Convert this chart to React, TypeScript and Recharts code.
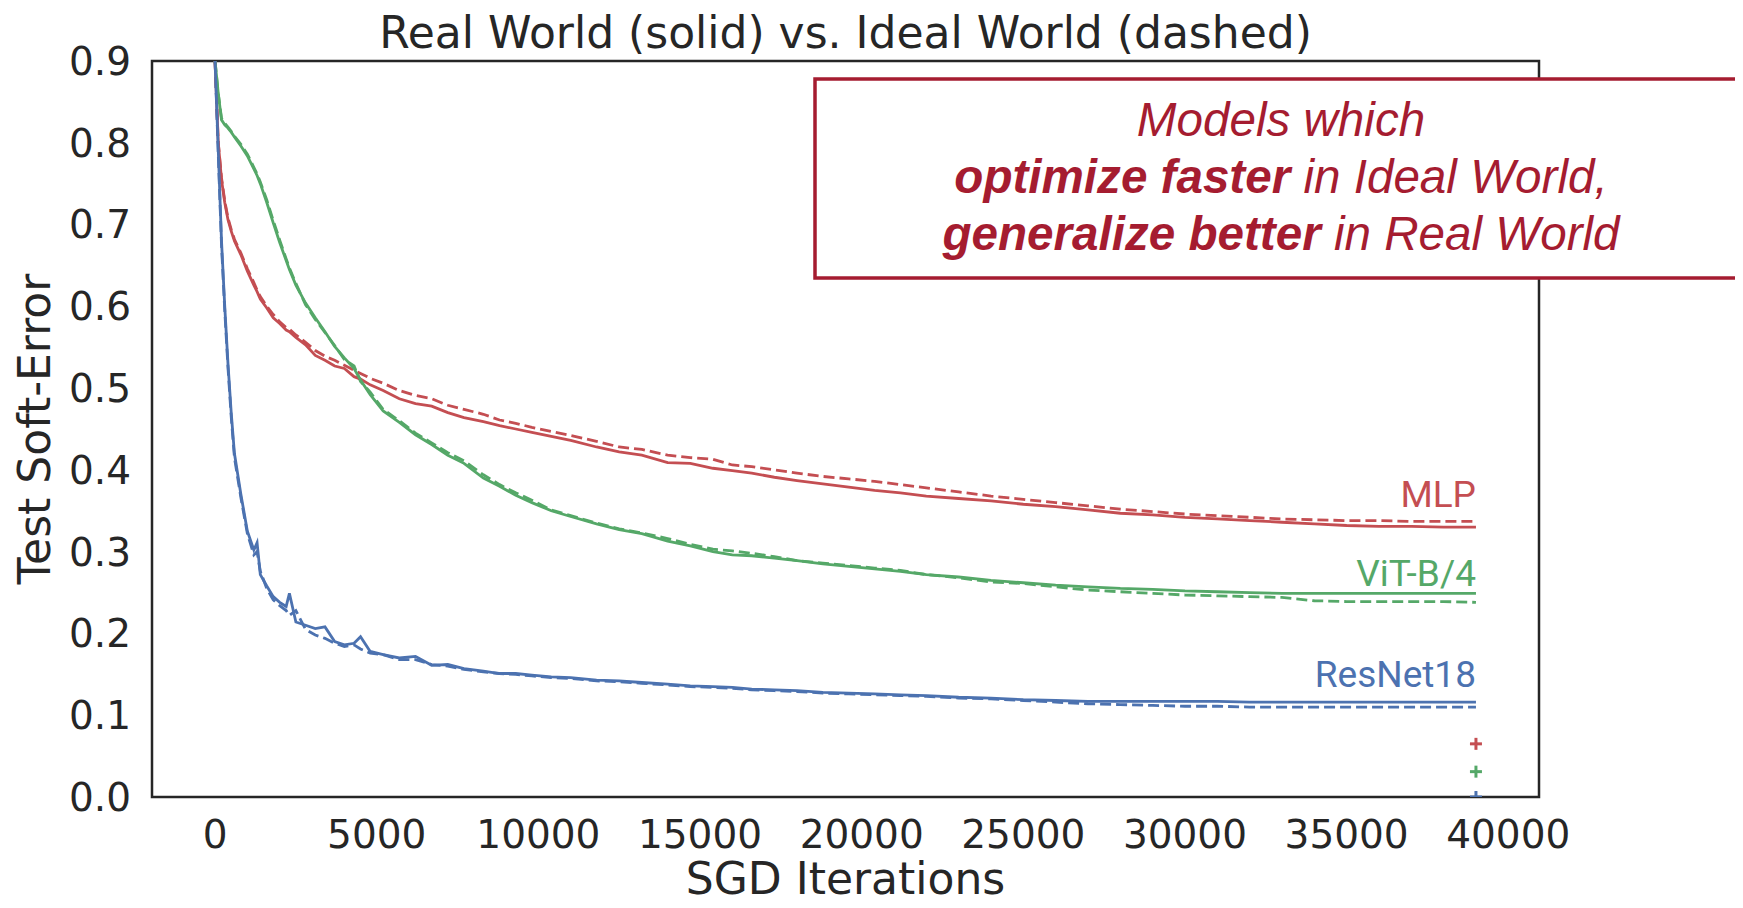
import React from 'react';
import {
  ComposedChart,
  Line,
  Scatter,
  XAxis,
  YAxis,
  LabelList,
  Customized,
} from 'recharts';

// ---------------- data ----------------
const iterations = [
  0, 100, 200, 300, 400, 500, 600, 800, 1000, 1200,
  1300, 1400, 1600, 1800, 2000, 2200, 2300, 2500, 2800, 3100,
  3400, 3700, 4000, 4300, 4500, 4800, 5200, 5700, 6200, 6700,
  7200, 7700, 8300, 8800, 9300, 9800, 10400, 11000, 11800, 12500,
  13200, 14000, 14700, 15400, 16000, 16600, 17300, 18000, 18800, 19600,
  20400, 21200, 22000, 23000, 24000, 25000, 26000, 27000, 28000, 29000,
  30000, 31000, 32000, 33000, 34000, 35000, 36000, 37000, 38000, 39000,
];

const mlpReal = [
  0.9, 0.8, 0.755, 0.727, 0.706, 0.692, 0.68, 0.663, 0.643, 0.626,
  0.618, 0.609, 0.598, 0.586, 0.579, 0.571, 0.569, 0.562, 0.553, 0.54,
  0.534, 0.527, 0.524, 0.514, 0.511, 0.504, 0.497, 0.487, 0.481, 0.478,
  0.47, 0.464, 0.459, 0.454, 0.45, 0.446, 0.441, 0.436, 0.428, 0.422,
  0.418, 0.409, 0.408, 0.402, 0.399, 0.396, 0.391, 0.387, 0.383, 0.379,
  0.375, 0.372, 0.368, 0.365, 0.362, 0.358, 0.355, 0.351, 0.347, 0.345,
  0.342, 0.34, 0.338, 0.336, 0.334, 0.332, 0.331, 0.331, 0.33, 0.33,
];

const mlpIdeal = [
  0.9, 0.8, 0.757, 0.729, 0.708, 0.694, 0.682, 0.665, 0.646, 0.629,
  0.62, 0.612, 0.6, 0.59, 0.581, 0.574, 0.572, 0.565, 0.556, 0.546,
  0.539, 0.534, 0.528, 0.522, 0.518, 0.512, 0.506, 0.497, 0.491, 0.487,
  0.479, 0.474, 0.468, 0.461, 0.457, 0.452, 0.447, 0.442, 0.435, 0.428,
  0.425, 0.418, 0.415, 0.413, 0.406, 0.404, 0.4, 0.396, 0.392, 0.389,
  0.386, 0.382, 0.378, 0.373, 0.368, 0.364, 0.36, 0.356, 0.352, 0.349,
  0.346, 0.344, 0.342, 0.34, 0.339, 0.338, 0.338, 0.337, 0.337, 0.337,
];

const vitReal = [
  0.9, 0.86, 0.828, 0.822, 0.818, 0.813, 0.807, 0.796, 0.784, 0.768,
  0.76, 0.75, 0.727, 0.702, 0.678, 0.656, 0.645, 0.626, 0.604, 0.586,
  0.569, 0.551, 0.537, 0.524, 0.51, 0.492, 0.472, 0.458, 0.443, 0.431,
  0.418, 0.408, 0.39, 0.38, 0.369, 0.36, 0.35, 0.343, 0.334, 0.327,
  0.322, 0.313, 0.307, 0.3, 0.296, 0.295, 0.292, 0.289, 0.285, 0.282,
  0.279, 0.276, 0.272, 0.269, 0.265, 0.262, 0.259, 0.257, 0.255, 0.254,
  0.252, 0.251, 0.25, 0.249, 0.249, 0.249, 0.249, 0.249, 0.249, 0.249,
];

const vitIdeal = [
  0.9, 0.86, 0.83, 0.824, 0.819, 0.814, 0.808, 0.798, 0.786, 0.77,
  0.762, 0.752, 0.73, 0.705, 0.681, 0.658, 0.647, 0.628, 0.602, 0.584,
  0.568, 0.552, 0.535, 0.527, 0.508, 0.495, 0.474, 0.46, 0.445, 0.433,
  0.421, 0.411, 0.394, 0.382, 0.372, 0.363, 0.351, 0.344, 0.335, 0.328,
  0.323, 0.316, 0.309, 0.303, 0.301, 0.298, 0.294, 0.289, 0.286, 0.283,
  0.28, 0.277, 0.272, 0.268, 0.263, 0.261, 0.257, 0.253, 0.251, 0.249,
  0.247, 0.246, 0.245, 0.244, 0.24, 0.239, 0.239, 0.239, 0.239, 0.238,
];

const resnetReal = [
  0.9, 0.79, 0.68, 0.6, 0.53, 0.47, 0.42, 0.37, 0.325, 0.302,
  0.311, 0.272, 0.258, 0.245, 0.238, 0.233, 0.249, 0.214, 0.21, 0.206,
  0.208, 0.19, 0.186, 0.188, 0.196, 0.178, 0.174, 0.17, 0.172, 0.161,
  0.162, 0.157, 0.154, 0.151, 0.151, 0.149, 0.147, 0.146, 0.143, 0.142,
  0.14, 0.138, 0.136, 0.135, 0.134, 0.132, 0.131, 0.13, 0.128, 0.127,
  0.126, 0.125, 0.124, 0.122, 0.121, 0.119, 0.118, 0.117, 0.117, 0.117,
  0.117, 0.117, 0.116, 0.116, 0.116, 0.116, 0.116, 0.116, 0.116, 0.116,
];

const resnetIdeal = [
  0.9, 0.785, 0.675, 0.595, 0.525, 0.465, 0.415, 0.366, 0.322, 0.296,
  0.3, 0.276, 0.255, 0.241, 0.234, 0.228, 0.222, 0.228, 0.205, 0.198,
  0.194, 0.188, 0.184, 0.186, 0.181, 0.176, 0.174, 0.168, 0.168, 0.162,
  0.16, 0.156, 0.153, 0.151, 0.15, 0.148, 0.146, 0.145, 0.142, 0.141,
  0.139, 0.137, 0.135, 0.134, 0.133, 0.131, 0.13, 0.129, 0.127, 0.126,
  0.125, 0.124, 0.123, 0.121, 0.12, 0.118, 0.116, 0.114, 0.113, 0.112,
  0.111, 0.111, 0.11, 0.11, 0.11, 0.11, 0.11, 0.11, 0.11, 0.11,
];

const modelNames = ['MLP', 'ViT-B/4', 'ResNet18'];
const modelColors = ['#c44e52', '#55a868', '#4c72b0'];
const finalIteration = 39000;
const trainErrors = [0.065, 0.031, 0.0];

const xTicks = [0, 5000, 10000, 15000, 20000, 25000, 30000, 35000, 40000];
const yTicks = [0, 0.1, 0.2, 0.3, 0.4, 0.5, 0.6, 0.7, 0.8, 0.9];
const xDomain = [-1950, 40950];
const yDomain = [0, 0.9];

const titleText = 'Real World (solid) vs. Ideal World (dashed)';
const xLabel = 'SGD Iterations';
const yLabel = 'Test Soft-Error';
const noteLine1 = 'Models which';
const noteLine2Bold = 'optimize faster';
const noteLine2Rest = ' in Ideal World,';
const noteLine3Bold = 'generalize better';
const noteLine3Rest = ' in Real World';

// ---------------- table ----------------
const table = iterations.map((it, i) => ({
  iter: it,
  mlpReal: mlpReal[i],
  mlpIdeal: mlpIdeal[i],
  vitReal: vitReal[i],
  vitIdeal: vitIdeal[i],
  resnetReal: resnetReal[i],
  resnetIdeal: resnetIdeal[i],
}));
const trainPoints = trainErrors.map((e) => [{ iter: finalIteration, err: e }]);

// ---------------- layout ----------------
const W = 1735;
const H = 900;
const PLOT_L = 144;
const PLOT_T = 53;
const PLOT_R = 1531;
const PLOT_B = 789;
const INK = '#262626';
const CRIMSON = '#a51c30';
const AXIS_FONT = "'DejaVu Sans', sans-serif";

const endLabel = (text: string, color: string, lift: number) => (props: any) => {
  if (props.index !== iterations.length - 1) return null;
  return (
    <text
      x={props.x}
      y={props.y - lift}
      textAnchor="end"
      fill={color}
      fontFamily="Roboto, sans-serif"
      fontSize={37}
    >
      {text}
    </text>
  );
};

const plusShape = (color: string) => (props: any) => {
  const { cx, cy } = props;
  return (
    <g>
      <line x1={cx - 6} x2={cx + 6} y1={cy} y2={cy} stroke={color} strokeWidth={3} />
      <line x1={cx} x2={cx} y1={cy - 6} y2={cy + 6} stroke={color} strokeWidth={3} />
    </g>
  );
};

const Overlay = () => {
  const cx = (PLOT_L + PLOT_R) / 2;
  const cy = (PLOT_T + PLOT_B) / 2;
  const boxX = 807;
  const boxY = 71;
  const boxCx = 1273;
  return (
    <g>
      <rect
        x={PLOT_L}
        y={PLOT_T}
        width={PLOT_R - PLOT_L}
        height={PLOT_B - PLOT_T}
        fill="none"
        stroke={INK}
        strokeWidth={2.5}
      />
      <text x={cx} y={40} textAnchor="middle" fill={INK} fontFamily={AXIS_FONT} fontSize={44}>
        {titleText}
      </text>
      <text x={cx} y={886} textAnchor="middle" fill={INK} fontFamily={AXIS_FONT} fontSize={44}>
        {xLabel}
      </text>
      <text
        transform="rotate(-90)"
        x={-cy}
        y={42}
        textAnchor="middle"
        fill={INK}
        fontFamily={AXIS_FONT}
        fontSize={44}
      >
        {yLabel}
      </text>
      <rect x={boxX} y={boxY} width={1000} height={199} fill="#ffffff" stroke={CRIMSON} strokeWidth={3.5} />
      <g fill={CRIMSON} fontFamily="'Liberation Sans', Arial, sans-serif" fontSize={47.6} fontStyle="italic">
        <text x={boxCx} y={128} textAnchor="middle">
          {noteLine1}
        </text>
        <text x={boxCx} y={185} textAnchor="middle">
          <tspan fontWeight="bold">{noteLine2Bold}</tspan>
          <tspan>{noteLine2Rest}</tspan>
        </text>
        <text x={boxCx} y={242} textAnchor="middle">
          <tspan fontWeight="bold">{noteLine3Bold}</tspan>
          <tspan>{noteLine3Rest}</tspan>
        </text>
      </g>
    </g>
  );
};

const seriesKeys = [
  ['mlpReal', 'mlpIdeal'],
  ['vitReal', 'vitIdeal'],
  ['resnetReal', 'resnetIdeal'],
];
const labelLift = [20, 7, 15];

export default function App() {
  return (
    <div style={{ width: W, height: H }}>
      <ComposedChart
        width={W}
        height={H}
        data={table}
        margin={{ top: PLOT_T, right: W - PLOT_R, left: 0, bottom: 0 }}
      >
        <XAxis
          dataKey="iter"
          type="number"
          domain={xDomain}
          ticks={xTicks}
          interval={0}
          allowDataOverflow
          height={H - PLOT_B}
          tickSize={0}
          tickMargin={23}
          tickLine={false}
          axisLine={false}
          tick={{ fontSize: 39, fill: INK, fontFamily: AXIS_FONT }}
        />
        <YAxis
          type="number"
          domain={yDomain}
          ticks={yTicks}
          interval={0}
          allowDataOverflow
          width={PLOT_L}
          tickSize={0}
          tickMargin={21}
          tickLine={false}
          axisLine={false}
          tickFormatter={(v: number) => v.toFixed(1)}
          tick={{ fontSize: 39, fill: INK, fontFamily: AXIS_FONT }}
        />
        {seriesKeys.map(([realKey, idealKey], m) => (
          <Line
            key={idealKey}
            dataKey={idealKey}
            type="linear"
            stroke={modelColors[m]}
            strokeWidth={2.8}
            strokeDasharray="11 5"
            dot={false}
            activeDot={false}
            isAnimationActive={false}
          />
        ))}
        {seriesKeys.map(([realKey], m) => (
          <Line
            key={realKey}
            dataKey={realKey}
            type="linear"
            stroke={modelColors[m]}
            strokeWidth={2.8}
            dot={false}
            activeDot={false}
            isAnimationActive={false}
          >
            <LabelList dataKey={realKey} content={endLabel(modelNames[m], modelColors[m], labelLift[m])} />
          </Line>
        ))}
        {trainPoints.map((pts, m) => (
          <Scatter
            key={'train' + m}
            data={pts}
            dataKey="err"
            shape={plusShape(modelColors[m])}
            isAnimationActive={false}
          />
        ))}
        <Customized component={Overlay} />
      </ComposedChart>
    </div>
  );
}
